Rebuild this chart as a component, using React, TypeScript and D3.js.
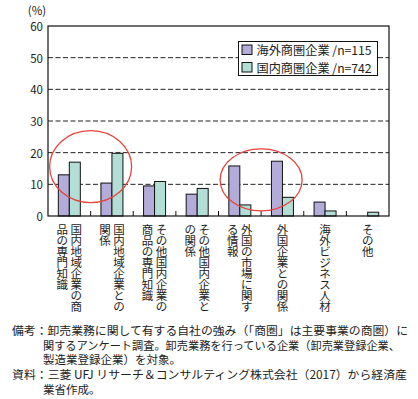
import React from 'react';
import * as d3 from 'd3';

const categories = [
  '国内地域企業の商品の専門知識',
  '国内地域企業との関係',
  'その他国内企業の商品の専門知識',
  'その他国内企業との関係',
  '外国の市場に関する情報',
  '外国企業との関係',
  '海外ビジネス人材',
  'その他',
];
const overseas = [13, 10.4, 9.5, 6.9, 15.8, 17.3, 4.4, 0];
const domestic = [17, 19.8, 10.9, 8.7, 3.5, 5.9, 1.6, 1.2];
const seriesNames = ['海外商圏企業 /n=115', '国内商圏企業 /n=742'];
const yTicks = [0, 10, 20, 30, 40, 50, 60];
const gridTicks = [10, 20, 30, 40, 50];
const unitLabel = '(%)';
const notes = [
  '備考：卸売業務に関して有する自社の強み（「商圏」は主要事業の商圏）に',
  '関するアンケート調査。卸売業務を行っている企業（卸売業登録企業、',
  '製造業登録企業）を対象。',
  '資料：三菱 UFJ リサーチ＆コンサルティング株式会社（2017）から経済産',
  '業省作成。',
];
const highlightGroups = [
  { from: 0, to: 1, value: 15.6, ry: 36 },
  { from: 4, to: 5, value: 11.4, ry: 31 },
];

const W = 418;
const H = 399;
const FONT = '"Noto Sans CJK JP", "Noto Sans", sans-serif';
const colors = ['#b4acd8', '#b3ded5'];
const noteLayout = [
  { x: 12, len: 396 },
  { x: 43, len: 357 },
  { x: 43, len: 0 },
  { x: 12, len: 395 },
  { x: 43, len: 0 },
];

export default function App() {
  const x = d3.scaleBand<string>().domain(categories).range([48, 389]).padding(0);
  const y = d3.scaleLinear().domain([0, 60]).range([216, 26]);
  const bw = x.bandwidth();
  const barW = 11;
  const sub = d3.scaleBand<string>().domain(['o', 'd']).range([bw / 2 - barW, bw / 2 + barW]).padding(0);
  const series = [overseas, domestic];
  const subKeys = ['o', 'd'];
  const pitch = 11.1;

  return (
    <svg width={W} height={H} style={{ position: 'absolute', left: 0, top: 0, background: '#fff' }} fontFamily={FONT}>
      {/* gridlines */}
      {gridTicks.map((t) => (
        <line key={t} x1={48} x2={389} y1={y(t)} y2={y(t)} stroke="#222" strokeWidth={1} strokeDasharray="5,2.5" />
      ))}
      {/* bars */}
      {categories.map((c, i) =>
        series.map((s, k) => {
          const v = s[i];
          if (v <= 0) return null;
          return (
            <rect
              key={c + k}
              x={(x(c) as number) + (sub(subKeys[k]) as number)}
              y={y(v)}
              width={sub.bandwidth()}
              height={y(0) - y(v)}
              fill={colors[k]}
              stroke="#111"
              strokeWidth={1}
            />
          );
        })
      )}
      {/* frame */}
      <rect x={48} y={26} width={341} height={190} fill="none" stroke="#111" strokeWidth={1.2} />
      {/* category ticks */}
      {categories.slice(1).map((c) => (
        <line key={c} x1={x(c)} x2={x(c)} y1={216} y2={211} stroke="#111" strokeWidth={1} />
      ))}
      {/* y tick labels */}
      {yTicks.map((t) => (
        <text key={t} x={43} y={y(t)} textAnchor="end" dominantBaseline="central" fontSize={11.5} fill="#222">
          {t}
        </text>
      ))}
      <text x={37} y={10} textAnchor="middle" dominantBaseline="central" fontSize={11.5} fill="#222">
        {unitLabel}
      </text>
      {/* category labels (vertical, one glyph per text) */}
      {categories.map((c) => {
        const cx = (x(c) as number) + bw / 2;
        const cols = [c.slice(0, 8), c.slice(8)].filter((s) => s.length > 0);
        return cols.map((col, ci) => {
          const colX = cols.length === 1 ? cx : ci === 0 ? cx + 7 : cx - 7;
          return Array.from(col).map((ch, j) => (
            <text
              key={c + ci + j}
              x={colX}
              y={228.5 + j * pitch}
              textAnchor="middle"
              dominantBaseline="central"
              fontSize={11.5}
              fill="#222"
            >
              {ch}
            </text>
          ));
        });
      })}
      {/* legend */}
      <rect x={238.5} y={41.5} width={139} height={34} fill="#fff" stroke="#111" strokeWidth={1} />
      {seriesNames.map((n, k) => (
        <g key={n}>
          <rect x={242} y={45 + k * 17.5} width={10} height={9.5} fill={colors[k]} stroke="#111" strokeWidth={1} />
          <text x={256.5} y={50 + k * 17.5} dominantBaseline="central" fontSize={12.2} fill="#222">
            {n}
          </text>
        </g>
      ))}
      {/* highlight ellipses */}
      {highlightGroups.map((g, i) => {
        const a = (x(categories[g.from]) as number) + bw / 2;
        const b = (x(categories[g.to]) as number) + bw / 2;
        return (
          <ellipse key={i} cx={(a + b) / 2} cy={y(g.value)} rx={41} ry={g.ry} fill="none" stroke="#e2453c" strokeWidth={1.3} />
        );
      })}
      {/* notes */}
      {notes.map((n, i) => {
        const L = noteLayout[i];
        return (
          <text
            key={i}
            x={L.x}
            y={330 + i * 14.7}
            dominantBaseline="central"
            fontSize={11.5}
            fill="#222"
            {...(L.len ? { textLength: L.len, lengthAdjust: 'spacingAndGlyphs' } : {})}
          >
            {n}
          </text>
        );
      })}
    </svg>
  );
}
